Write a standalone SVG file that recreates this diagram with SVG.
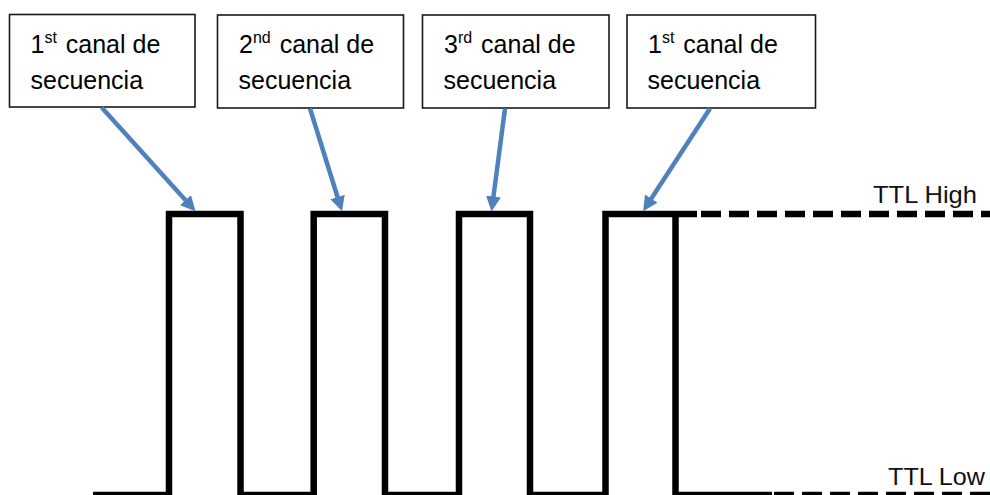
<svg xmlns="http://www.w3.org/2000/svg" width="990" height="495" viewBox="0 0 990 495">
<style>
.box{fill:#fff;stroke:#1a1a1a;stroke-width:1.6}
.lbl{font-family:"Liberation Sans",Arial,sans-serif;font-size:25px;fill:#000}
.sup{font-size:16px}
.ttl{font-family:"Liberation Sans",Arial,sans-serif;font-size:24px;fill:#111}
.wave{fill:none;stroke:#000;stroke-width:6.5;stroke-linejoin:miter;stroke-linecap:butt}
.dash{fill:none;stroke:#000;stroke-width:6.5;stroke-dasharray:20 8}
.arr{stroke:#4F81BD;stroke-width:4.5;fill:none}
</style>
<defs>
<marker id="ah" markerUnits="userSpaceOnUse" markerWidth="15" markerHeight="15" viewBox="0 0 15 15" refX="0.5" refY="7.5" orient="auto">
<path d="M0,0 L15,7.5 L0,15 z" fill="#4F81BD"/>
</marker>
</defs>
<rect width="990" height="495" fill="#fff"/>
<g id="waveform">
<path class="wave" d="M93,495 H169 V214 H240.5 V495 H313.7 V214 H385 V495 H459 V214 H530 V495 H605.5 V214 H697 M675.5,214 V495 H772"/>
<path class="dash" d="M701,214 H990"/>
<path class="dash" d="M774,495 H990"/>
</g>
<g id="node-ch1a">
<rect class="box" x="9.5" y="14.5" width="185.5" height="92.5"/>
<text class="lbl" x="30.5" y="53">1<tspan class="sup" dy="-10">st</tspan><tspan dx="2" dy="10"> canal de</tspan></text>
<text class="lbl" x="30.5" y="89">secuencia</text>
</g>
<g id="node-ch2">
<rect class="box" x="217.5" y="15" width="186" height="93"/>
<text class="lbl" x="239" y="53">2<tspan class="sup" dy="-10">nd</tspan><tspan dx="2" dy="10"> canal de</tspan></text>
<text class="lbl" x="238.5" y="89">secuencia</text>
</g>
<g id="node-ch3">
<rect class="box" x="422.5" y="15" width="186.5" height="93"/>
<text class="lbl" x="444" y="53">3<tspan class="sup" dy="-10">rd</tspan><tspan dx="2" dy="10"> canal de</tspan></text>
<text class="lbl" x="443.5" y="89">secuencia</text>
</g>
<g id="node-ch1b">
<rect class="box" x="627" y="15" width="188.5" height="93"/>
<text class="lbl" x="648" y="53">1<tspan class="sup" dy="-10">st</tspan><tspan dx="2" dy="10"> canal de</tspan></text>
<text class="lbl" x="647.5" y="89">secuencia</text>
</g>
<g id="node-ttl-high">
<text class="ttl" x="873" y="203" textLength="104" lengthAdjust="spacingAndGlyphs">TTL High</text>
</g>
<g id="node-ttl-low">
<text class="ttl" x="888" y="485" textLength="97" lengthAdjust="spacingAndGlyphs">TTL Low</text>
</g>
<g id="connectors">
<line class="arr" x1="101.7" y1="107.5" x2="185.8" y2="200.5" marker-end="url(#ah)"/>
<line class="arr" x1="310" y1="108.5" x2="337.7" y2="197.5" marker-end="url(#ah)"/>
<line class="arr" x1="505" y1="108.5" x2="493.4" y2="197" marker-end="url(#ah)"/>
<line class="arr" x1="710" y1="108.5" x2="651" y2="199" marker-end="url(#ah)"/>
</g>
</svg>
